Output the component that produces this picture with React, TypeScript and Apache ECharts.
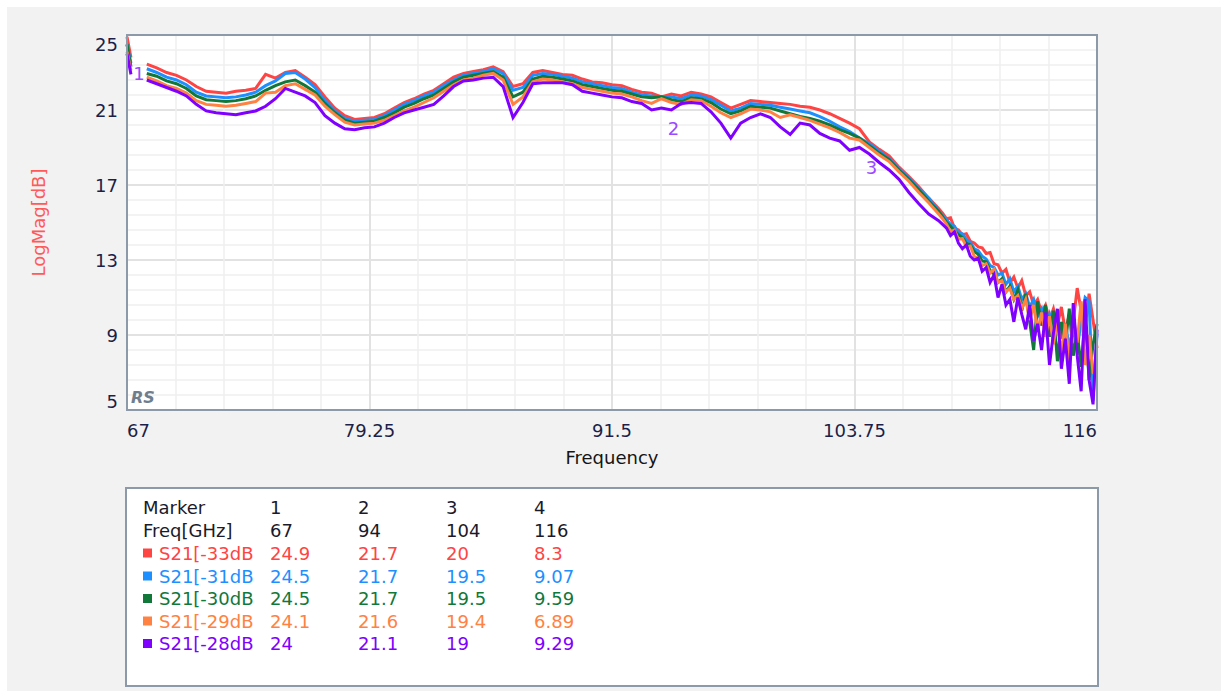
import React, { useEffect, useRef } from 'react';
import * as echarts from 'echarts';

// Frequency samples (GHz); the reference trace has a short gap after the first samples
const FREQ = [
  67, 67.2, 67.6, 68, 68.5, 69, 69.5, 70, 70.5, 71, 71.5,
  72, 72.5, 73, 73.5, 74, 74.5, 75, 75.5, 76, 76.5,
  77, 77.5, 78, 78.5, 79, 79.5, 80, 80.5, 81, 81.5,
  82, 82.5, 83, 83.5, 84, 84.5, 85, 85.5, 86, 86.5,
  87, 87.5, 88, 88.5, 89, 89.5, 90, 90.5, 91, 91.5,
  92, 92.5, 93, 93.5, 94, 94.5, 95, 95.5, 96, 96.5,
  97, 97.5, 98, 98.5, 99, 99.5, 100, 100.5, 101, 101.5,
  102, 102.5, 103, 103.5, 104, 104.5, 105, 105.5, 106, 106.5,
  107, 107.5, 108,
  108.2, 108.4, 108.6, 108.8, 109, 109.2, 109.4, 109.6, 109.8, 110,
  110.2, 110.4, 110.6, 110.8, 111, 111.2, 111.4, 111.6, 111.8, 112,
  112.2, 112.4, 112.6, 112.8, 113, 113.2, 113.4, 113.6, 113.8, 114,
  114.2, 114.4, 114.6, 114.8, 115, 115.2, 115.4, 115.6, 115.8, 116,
];

const S21_33 = [
  24.9, 23.8, null, 23.45, 23.25, 23.0, 22.85, 22.6, 22.25, 22.0, 21.95,
  21.9, 22.0, 22.05, 22.15, 22.9, 22.7, 23.0, 23.1, 22.75, 22.35,
  21.7, 21.1, 20.7, 20.5, 20.55, 20.6, 20.8, 21.1, 21.4, 21.6,
  21.85, 22.05, 22.4, 22.75, 22.95, 23.05, 23.15, 23.3, 23.05, 22.25,
  22.4, 23.0, 23.1, 23.0, 22.9, 22.85, 22.65, 22.5, 22.45, 22.35,
  22.3, 22.1, 21.95, 21.9, 21.7, 21.85, 21.75, 21.95, 21.85, 21.7,
  21.4, 21.1, 21.3, 21.5, 21.45, 21.4, 21.35, 21.3, 21.2, 21.15,
  21.0, 20.8, 20.55, 20.3, 20.0, 19.3, 18.9, 18.55, 17.95, 17.45,
  16.9, 16.3, 15.75,
  15.5, 15.2, 15.25, 14.7, 14.6, 14.35, 14.4, 14.0, 13.9, 13.7,
  13.65, 13.35, 13.4, 12.8, 12.75, 12.3, 12.5, 11.8, 12.1, 11.5,
  11.9, 11.1, 11.3, 10.6, 10.9, 10.2, 10.6, 9.8, 10.4, 9.5,
  10.5, 9.2, 10.1, 9.7, 11.5, 10.3, 9.4, 11.2, 9.8, 8.3,
];

const S21_31 = [
  24.5, 23.5, null, 23.2, 23.0, 22.75, 22.6, 22.35, 21.95, 21.75, 21.7,
  21.65, 21.7, 21.8, 21.95, 22.3, 22.55, 22.95, 23.0, 22.65, 22.2,
  21.5, 20.95, 20.55, 20.4, 20.45, 20.5, 20.7, 21.0, 21.3, 21.5,
  21.75, 21.95, 22.3, 22.6, 22.85, 22.95, 23.05, 23.2, 22.95, 22.05,
  22.2, 22.85, 22.95, 22.9, 22.8, 22.7, 22.5, 22.4, 22.3, 22.2,
  22.15, 21.95, 21.8, 21.75, 21.7, 21.7, 21.6, 21.8, 21.75, 21.55,
  21.25, 20.95, 21.1, 21.35, 21.3, 21.25, 21.15, 21.05, 20.95, 20.85,
  20.65, 20.4, 20.1, 19.85, 19.5, 19.2, 18.8, 18.4, 17.85, 17.35,
  16.8, 16.3, 15.6,
  15.4, 15.15, 14.9, 14.8, 14.45, 14.4, 14.1, 13.95, 13.6, 13.5,
  13.2, 13.05, 12.7, 12.6, 12.2, 12.3, 11.7, 12.0, 11.3, 11.6,
  10.9, 11.2, 10.5, 10.9, 10.0, 10.4, 9.5, 10.1, 9.2, 9.9,
  8.8, 9.6, 8.4, 9.3, 8.2, 9.8, 11.0, 10.8, 5.5, 9.07,
];

const S21_30 = [
  24.5, 23.3, null, 22.95, 22.8, 22.55, 22.4, 22.15, 21.75, 21.55, 21.5,
  21.45, 21.5, 21.6, 21.75, 22.05, 22.3, 22.5, 22.6, 22.3, 21.95,
  21.35, 20.85, 20.45, 20.3, 20.35, 20.4, 20.6, 20.85, 21.15, 21.35,
  21.6, 21.8, 22.15, 22.5, 22.75, 22.85, 22.95, 23.05, 22.75, 21.7,
  21.95, 22.65, 22.8, 22.75, 22.65, 22.55, 22.35, 22.25, 22.15, 22.05,
  22.0, 21.85, 21.7, 21.65, 21.7, 21.55, 21.45, 21.65, 21.6, 21.4,
  21.05, 20.8, 20.95, 21.2, 21.15, 21.1, 20.95, 20.8, 20.65, 20.55,
  20.4, 20.2, 19.95, 19.75, 19.5, 19.1, 18.7, 18.35, 17.8, 17.3,
  16.75, 16.15, 15.6,
  15.3, 15.0, 14.8, 14.55, 14.35, 14.2, 13.9, 13.8, 13.45, 13.3,
  12.95, 12.9, 12.45, 12.25, 11.8, 12.0, 11.3, 11.6, 10.9, 11.4,
  10.3, 11.2, 9.7, 8.2, 10.8, 9.5, 10.6, 8.9, 10.3, 7.6,
  9.7, 8.5, 10.4, 7.9, 9.1, 7.3, 10.0, 6.6, 8.5, 9.59,
];

const S21_29 = [
  24.1, 23.1, null, 22.75, 22.55, 22.3, 22.15, 21.9, 21.5, 21.3, 21.25,
  21.2, 21.25, 21.35, 21.45, 21.9, 21.95, 22.3, 22.4, 22.1, 21.8,
  21.2, 20.75, 20.35, 20.2, 20.25, 20.3, 20.45, 20.7, 20.95, 21.15,
  21.4, 21.65, 22.0, 22.35, 22.6, 22.7, 22.85, 22.95, 22.6, 21.3,
  21.7, 22.5, 22.65, 22.6, 22.5, 22.4, 22.2, 22.1, 22.0, 21.9,
  21.85, 21.7, 21.5, 21.35, 21.6, 21.4, 21.3, 21.55, 21.5, 21.2,
  20.85, 20.6, 20.8, 21.05, 21.0, 20.9, 20.6, 20.75, 20.6, 20.45,
  20.25, 20.05, 19.8, 19.5, 19.4, 19.0, 18.6, 18.25, 17.7, 17.2,
  16.6, 16.05, 15.45,
  15.2, 14.9, 14.5, 14.6, 14.1, 14.15, 13.7, 13.75, 13.2, 13.1,
  12.7, 12.8, 12.3, 12.5, 11.8, 11.9, 11.3, 11.5, 10.9, 11.1,
  10.4, 10.9, 9.8, 10.6, 9.2, 10.2, 8.9, 10.0, 8.5, 9.8,
  8.0, 9.6, 7.6, 10.0, 8.6, 10.8, 7.4, 9.0, 7.0, 6.89,
];

const S21_28 = [
  24.0, 22.9, null, 22.6, 22.4, 22.2, 22.0, 21.75, 21.3, 20.95, 20.85,
  20.8, 20.75, 20.85, 20.95, 21.2, 21.6, 22.15, 21.95, 21.75, 21.4,
  20.7, 20.3, 20.0, 19.95, 20.05, 20.1, 20.3, 20.6, 20.85, 21.0,
  21.15, 21.3, 21.75, 22.25, 22.55, 22.6, 22.7, 22.75, 22.25, 20.6,
  21.4, 22.4, 22.45, 22.45, 22.45, 22.35, 22.0, 21.9, 21.8, 21.7,
  21.65, 21.45, 21.35, 21.0, 21.1, 21.0, 21.35, 21.4, 21.35, 20.9,
  20.3, 19.5, 20.3, 20.6, 20.8, 20.6, 20.1, 19.7, 20.3, 20.2,
  19.75, 19.5, 19.35, 18.85, 19.0, 18.65, 18.2, 17.8, 17.3, 16.6,
  16.0, 15.45, 15.1,
  14.9, 14.7, 14.3, 14.5, 13.9, 13.6, 13.8, 13.2, 13.0, 13.1,
  12.4, 12.6, 11.8, 12.2, 11.0, 11.7, 10.6, 10.9, 9.7, 11.0,
  10.1, 9.3, 10.6, 8.7, 9.6, 8.2, 10.2, 7.4, 9.1, 10.4,
  7.2, 8.8, 6.4, 10.7, 7.9, 6.0, 10.9, 6.6, 5.3, 9.29,
];

const SERIES_NAMES = ['S21[-33dB', 'S21[-31dB', 'S21[-30dB', 'S21[-29dB', 'S21[-28dB'];
const SERIES_COLORS = ['#ff4444', '#1e8fff', '#12783a', '#ff8242', '#8000ff'];

// Marker table
const MARKER_IDS = ['1', '2', '3', '4'];
const MARKER_FREQ = ['67', '94', '104', '116'];
const MARKER_33 = ['24.9', '21.7', '20', '8.3'];
const MARKER_31 = ['24.5', '21.7', '19.5', '9.07'];
const MARKER_30 = ['24.5', '21.7', '19.5', '9.59'];
const MARKER_29 = ['24.1', '21.6', '19.4', '6.89'];
const MARKER_28 = ['24', '21.1', '19', '9.29'];

// Axis ticks
const X_TICKS = [67, 79.25, 91.5, 103.75, 116];
const Y_TICKS = [5, 9, 13, 17, 21, 25];

const FONT = 'DejaVu Sans';

export default function App() {
  const ref = useRef<HTMLDivElement>(null);

  useEffect(() => {
    if (!ref.current) return;
    const chart = echarts.init(ref.current, null, { renderer: 'svg' });

    const X0 = X_TICKS[0];
    const Y0 = Y_TICKS[0];
    const all = [S21_33, S21_31, S21_30, S21_29, S21_28];
    const markerRows = [MARKER_33, MARKER_31, MARKER_30, MARKER_29, MARKER_28];

    const series: any[] = all.map((vals, k) => {
      const s: any = {
        type: 'line',
        name: SERIES_NAMES[k],
        data: FREQ.map((f, i) => [f - X0, vals[i] == null ? null : (vals[i] as number) - Y0]),
        symbol: 'none',
        showSymbol: false,
        connectNulls: false,
        lineStyle: { color: SERIES_COLORS[k], width: 3, join: 'miter' },
        itemStyle: { color: SERIES_COLORS[k] },
        z: 2 + k,
      };
      if (k === 4) {
        s.markPoint = {
          symbol: 'circle',
          symbolSize: 1,
          itemStyle: { color: 'rgba(0,0,0,0)' },
          label: {
            show: true,
            position: 'inside',
            offset: [12, 20],
            formatter: '{b}',
            color: '#9a4bff',
            fontSize: 18,
            fontFamily: FONT,
          },
          data: [0, 1, 2].map((j) => ({
            name: MARKER_IDS[j],
            coord: [Number(MARKER_FREQ[j]) - X0, Number(MARKER_28[j]) - Y0],
          })),
        };
      }
      return s;
    });

    const graphics: any[] = [
      { type: 'rect', silent: true, shape: { x: 0, y: 0, width: 1221, height: 7 }, style: { fill: '#ffffff' } },
      { type: 'rect', silent: true, shape: { x: 0, y: 0, width: 7, height: 691 }, style: { fill: '#ffffff' } },
      {
        type: 'rect', silent: true, z: 100,
        shape: { x: 127, y: 35, width: 970, height: 375 },
        style: { fill: 'none', stroke: '#8b99a8', lineWidth: 2 },
      },
      {
        type: 'text', silent: true, z: 101, x: 131, y: 397,
        style: { text: 'RS', fill: '#6f7e8e', fontSize: 16, fontWeight: 'bold', fontStyle: 'italic', fontFamily: FONT, verticalAlign: 'middle' },
      },
      {
        type: 'rect', silent: true,
        shape: { x: 126, y: 488, width: 972, height: 198 },
        style: { fill: '#ffffff', stroke: '#8b99a8', lineWidth: 2 },
      },
    ];

    const colX = [270, 358, 446, 534];
    const rowY = [507, 530, 553, 576, 598.5, 621, 643.5];
    const txt = (text: string, x: number, y: number, fill: string) => ({
      type: 'text', silent: true, x, y,
      style: { text, fill, fontSize: 18, fontFamily: FONT, verticalAlign: 'middle', align: 'left' },
    });
    graphics.push(txt('Marker', 143, rowY[0], '#1a1a2a'));
    graphics.push(txt('Freq[GHz]', 143, rowY[1], '#1a1a2a'));
    MARKER_IDS.forEach((m, j) => graphics.push(txt(m, colX[j], rowY[0], '#1a1a2a')));
    MARKER_FREQ.forEach((m, j) => graphics.push(txt(m, colX[j], rowY[1], '#1a1a2a')));
    SERIES_NAMES.forEach((name, k) => {
      const y = rowY[2 + k];
      graphics.push({
        type: 'rect', silent: true,
        shape: { x: 143, y: y - 4.5, width: 9, height: 9 },
        style: { fill: SERIES_COLORS[k] },
      });
      graphics.push(txt(name, 159, y, SERIES_COLORS[k]));
      markerRows[k].forEach((v, j) => graphics.push(txt(v, colX[j], y, SERIES_COLORS[k])));
    });

    const fmtX = (v: number) => String(Math.round((v + X0) * 100) / 100);
    const fmtY = (v: number) => String(Math.round((v + Y0) * 100) / 100);

    chart.setOption({
      animation: false,
      backgroundColor: '#f2f2f2',
      grid: {
        left: 127, right: 124, top: 35, bottom: 281,
        show: true, backgroundColor: '#ffffff', borderWidth: 0,
      },
      xAxis: {
        type: 'value',
        min: 0,
        max: X_TICKS[X_TICKS.length - 1] - X0,
        interval: X_TICKS[1] - X_TICKS[0],
        name: 'Frequency',
        nameLocation: 'middle',
        nameGap: 38,
        nameTextStyle: { fontSize: 18, color: '#151515', fontFamily: FONT },
        axisLine: { show: false },
        axisTick: { show: false },
        minorTick: { show: false, splitNumber: 5 },
        axisLabel: {
          fontSize: 18, color: '#1c1f48', fontFamily: FONT, margin: 11,
          formatter: fmtX, alignMinLabel: 'left', alignMaxLabel: 'right',
        },
        splitLine: { show: true, lineStyle: { color: '#e2e2e2', width: 2 } },
        minorSplitLine: { show: true, lineStyle: { color: '#efefef', width: 1.5 } },
      },
      yAxis: {
        type: 'value',
        min: 0,
        max: Y_TICKS[Y_TICKS.length - 1] - Y0,
        interval: Y_TICKS[1] - Y_TICKS[0],
        name: 'LogMag[dB]',
        nameLocation: 'middle',
        nameGap: 80,
        nameTextStyle: { fontSize: 18, color: '#ff5a5a', fontFamily: FONT },
        axisLine: { show: false },
        axisTick: { show: false },
        minorTick: { show: false, splitNumber: 5 },
        axisLabel: {
          fontSize: 18, color: '#1c1f48', fontFamily: FONT, margin: 9,
          formatter: fmtY, verticalAlignMinLabel: 'bottom', verticalAlignMaxLabel: 'top',
        },
        splitLine: { show: true, lineStyle: { color: '#e2e2e2', width: 2 } },
        minorSplitLine: { show: true, lineStyle: { color: '#efefef', width: 1.5 } },
      },
      series,
      graphic: graphics,
    });

    return () => chart.dispose();
  }, []);

  return <div ref={ref} style={{ position: 'fixed', left: 0, top: 0, width: 1221, height: 691 }} />;
}
